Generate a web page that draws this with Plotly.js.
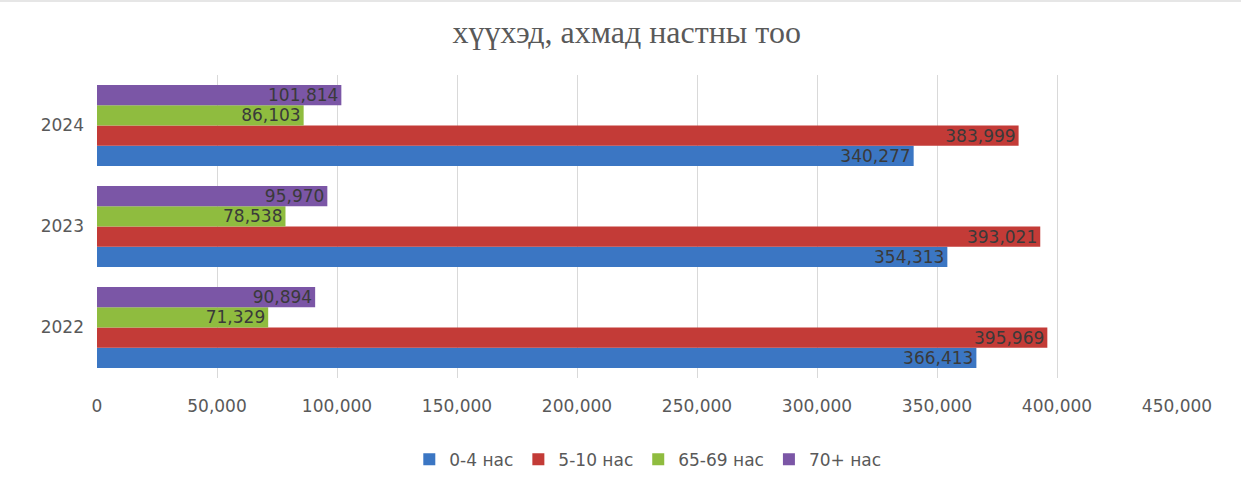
<!DOCTYPE html>
<html><head><meta charset="utf-8">
<script src="https://cdn.plot.ly/plotly-3.0.1.min.js"></script>
<style>html,body{margin:0;padding:0;background:#fff}#chart{width:1241px;height:496px;box-sizing:border-box;border-top:2px solid #e6e6e6}</style>
</head><body><div id="chart"></div>
<script>
const years = ['2022', '2023', '2024'];
const seriesNames = ['0-4 нас', '5-10 нас', '65-69 нас', '70+ нас'];
const age0_4 = [366413, 354313, 340277];
const age5_10 = [395969, 393021, 383999];
const age65_69 = [71329, 78538, 86103];
const age70p = [90894, 95970, 101814];
const colors = ['#3b76c3', '#c33b37', '#8fbc3f', '#7b56a6'];
const xTicks = [0, 50000, 100000, 150000, 200000, 250000, 300000, 350000, 400000, 450000];

const allSeries = [age0_4, age5_10, age65_69, age70p];
const fmt = v => v.toLocaleString('en-US');
const traces = allSeries.map((vals, i) => ({
  type: 'bar', orientation: 'h', name: seriesNames[i], y: years, x: vals,
  text: vals.map(fmt), textposition: 'inside', insidetextanchor: 'end',
  constraintext: 'none', cliponaxis: false,
  textfont: {family: 'DejaVu Sans', size: 17, color: '#3a3a3a'},
  marker: {color: colors[i], line: {color: colors[i], width: 0}},
  hoverinfo: 'x+name'
}));

const layout = {
  width: 1241, height: 494,
  margin: {l: 97, r: 64, t: 73, b: 118},
  paper_bgcolor: '#fff', plot_bgcolor: '#fff',
  barmode: 'group', bargap: 0.2, bargroupgap: 0,
  title: {text: 'хүүхэд, ахмад настны тоо', x: 0.505, xanchor: 'center', y: 0.94, yanchor: 'middle',
    font: {family: 'Liberation Serif, DejaVu Serif, serif', size: 32, color: '#595959'}},
  xaxis: {range: [0, 450000], tickvals: xTicks, ticktext: xTicks.map(fmt),
    showgrid: true, gridcolor: '#d9d9d9', gridwidth: 1, zeroline: false, automargin: false,
    showline: false, ticks: '', ticklabelstandoff: 16,
    tickfont: {family: 'DejaVu Sans', size: 17, color: '#595959'}},
  yaxis: {type: 'category', categoryorder: 'array', categoryarray: years, automargin: false,
    showgrid: false, zeroline: false, showline: false, ticks: '', ticklabelstandoff: 12,
    tickfont: {family: 'DejaVu Sans', size: 17, color: '#595959'}},
  legend: {orientation: 'h', x: 0.51, xanchor: 'center', y: -0.27, yanchor: 'middle',
    font: {family: 'DejaVu Sans', size: 17, color: '#595959'}, traceorder: 'normal',
    itemwidth: 30, itemgap: 20},
  showlegend: true
};
Plotly.newPlot('chart', traces, layout, {displayModeBar: false, staticPlot: true});
</script></body></html>
